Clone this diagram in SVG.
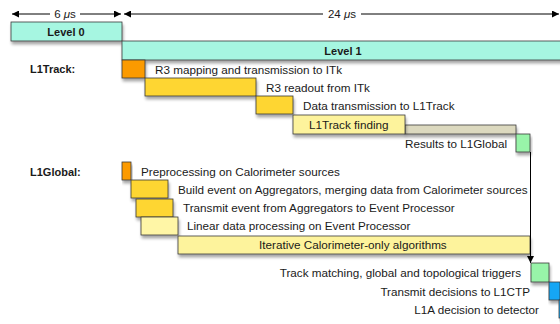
<svg xmlns="http://www.w3.org/2000/svg" width="560" height="324" viewBox="0 0 560 324">
<style>
text{font-family:"Liberation Sans",Arial,sans-serif;font-size:11.7px;fill:#1a1a1a}
.b{font-weight:bold;font-size:11px}
.s{font-size:11.5px}
.box{stroke:#3a3a3a;stroke-width:0.8}
.lvl{fill:#a6f6e1}
.org{fill:#fb9a00}
.yel{fill:#fed630}
.lyel{fill:#fdf39c}
.pale{fill:#fff6a6}
.grn{fill:#98f4a9}
.blu{fill:#16a6f4}
.gry{fill:#dcd9bf}
.ln{stroke:#000;stroke-width:1;fill:none}
</style>
<defs>
<filter id="sh" x="-10%" y="-20%" width="130%" height="180%">
<feGaussianBlur in="SourceAlpha" stdDeviation="1.4"/>
<feOffset dx="1" dy="3" result="o"/>
<feComponentTransfer><feFuncA type="linear" slope="0.35"/></feComponentTransfer>
<feMerge><feMergeNode/><feMergeNode in="SourceGraphic"/></feMerge>
</filter>
<marker id="ah" viewBox="0 0 10 10" refX="10" refY="5" markerWidth="9" markerHeight="7" markerUnits="userSpaceOnUse" orient="auto-start-reverse">
<path d="M0,0 L10,5 L0,10 z" fill="#000"/>
</marker>
</defs>
<rect width="560" height="324" fill="#fff"/>

<g id="timescale">
<line class="ln" x1="12" y1="14" x2="50" y2="14" marker-start="url(#ah)"/>
<line class="ln" x1="80" y1="14" x2="121" y2="14" marker-end="url(#ah)"/>
<text class="s" x="65" y="18" text-anchor="middle">6 <tspan font-style="italic">μ</tspan>s</text>
<line class="ln" x1="124" y1="14" x2="323" y2="14" marker-start="url(#ah)"/>
<line class="ln" x1="361" y1="14" x2="559" y2="14" marker-end="url(#ah)"/>
<text class="s" x="342" y="18" text-anchor="middle">24 <tspan font-style="italic">μ</tspan>s</text>
</g>

<g id="level0"><rect class="box lvl" x="11" y="22" width="111" height="19" filter="url(#sh)"/><text class="b" x="66" y="36" text-anchor="middle">Level 0</text></g>
<g id="level1"><rect class="box lvl" x="122" y="41" width="445" height="19" filter="url(#sh)"/><text class="b" x="343" y="55" text-anchor="middle">Level 1</text></g>

<text class="b" x="30" y="73">L1Track:</text>
<text class="b" x="30" y="176">L1Global:</text>

<g id="trk_map"><rect class="box org" x="122" y="60" width="23" height="18" filter="url(#sh)"/><text x="155" y="74">R3 mapping and transmission to ITk</text></g>
<g id="trk_readout"><rect class="box yel" x="145" y="78" width="111" height="18" filter="url(#sh)"/><text x="266" y="92">R3 readout from ITk</text></g>
<g id="trk_transmit"><rect class="box yel" x="256" y="96" width="37" height="18" filter="url(#sh)"/><text x="303" y="110">Data transmission to L1Track</text></g>
<g id="trk_wait"><rect class="box gry" x="405" y="125" width="111" height="9" filter="url(#sh)"/></g>
<g id="trk_finding"><rect class="box lyel" x="293" y="115" width="112" height="19" filter="url(#sh)"/><text x="309" y="129">L1Track finding</text></g>
<g id="trk_results"><rect class="box grn" x="516" y="134" width="14" height="18" filter="url(#sh)"/><text x="507" y="148" text-anchor="end">Results to L1Global</text></g>

<g id="glb_pre"><rect class="box org" x="122" y="162" width="9" height="18" filter="url(#sh)"/><text x="141" y="176">Preprocessing on Calorimeter sources</text></g>
<g id="glb_build"><rect class="box yel" x="131" y="180" width="37" height="18" filter="url(#sh)"/><text x="178" y="194">Build event on Aggregators, merging data from Calorimeter sources</text></g>
<g id="glb_transmit"><rect class="box yel" x="136" y="199" width="37" height="18" filter="url(#sh)"/><text x="183" y="212">Transmit event from Aggregators to Event Processor</text></g>
<g id="glb_linear"><rect class="box pale" x="141" y="217" width="37" height="18" filter="url(#sh)"/><text x="187" y="230">Linear data processing on Event Processor</text></g>
<g id="glb_iter"><rect class="box lyel" x="178" y="236" width="352" height="18" filter="url(#sh)"/><text x="259" y="249">Iterative Calorimeter-only algorithms</text></g>

<g id="connectors">
<line class="ln" x1="530.5" y1="152" x2="530.5" y2="263" marker-end="url(#ah)"/>
</g>

<g id="trig"><rect class="box grn" x="531" y="263" width="18" height="19" filter="url(#sh)"/><text x="521" y="277" text-anchor="end">Track matching, global and topological triggers</text></g>
<g id="ctp"><rect class="box blu" x="549" y="282" width="11" height="18" filter="url(#sh)"/><text x="530" y="296" text-anchor="end">Transmit decisions to L1CTP</text></g>
<g id="l1a"><rect class="box blu" x="559" y="300" width="8" height="18" filter="url(#sh)"/><text x="539" y="314" text-anchor="end">L1A decision to detector</text></g>
</svg>
